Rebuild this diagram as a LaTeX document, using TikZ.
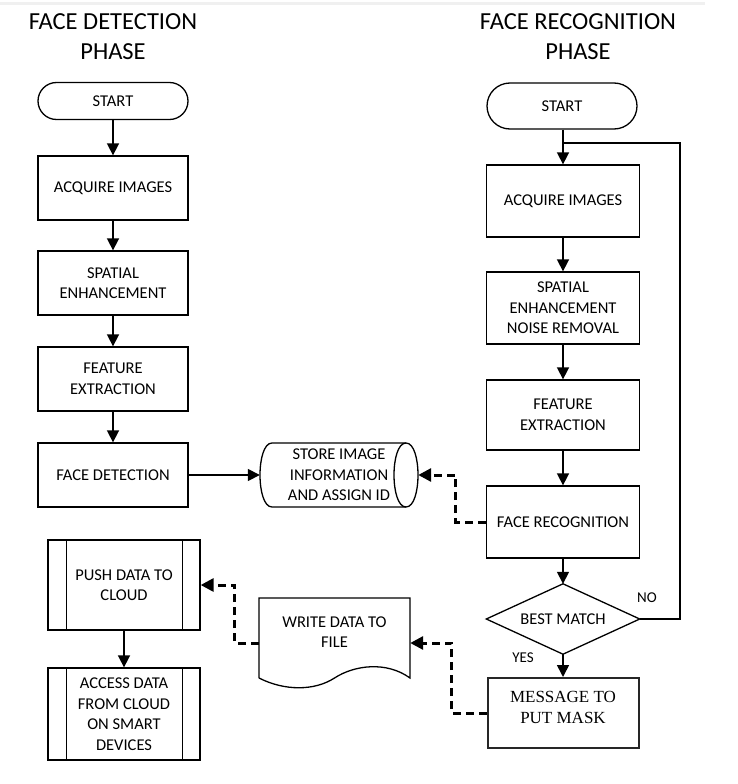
\documentclass[tikz,border=0pt]{standalone}
\usepackage{fontspec}
\setmainfont{Carlito}
\newfontfamily\timesfont{Liberation Serif}
\usetikzlibrary{arrows.meta,calc,shapes.misc}
\begin{document}
\begin{tikzpicture}[x=1pt,y=-1pt,
  txt/.style={font=\fontsize{16.5}{20.5}\selectfont, align=center},
  lbox/.style={txt, draw, line width=1.3pt, minimum width=150pt, minimum height=64pt, inner sep=0pt},
  rbox/.style={txt, draw, line width=1.3pt, minimum width=153pt, minimum height=72pt, inner sep=0pt},
  pbox/.style={txt, draw, line width=1.3pt, minimum width=152pt, minimum height=90pt, inner sep=0pt},
  term/.style={txt, draw, line width=1.3pt, rounded rectangle, minimum width=150pt, inner sep=0pt},
  ghost/.style={txt, inner sep=0pt},
  outline/.style={line width=1.3pt},
  title/.style={font=\fontsize{24.5}{30}\selectfont, align=center},
  lbl/.style={font=\fontsize{15}{18}\selectfont},
  flow/.style={line width=1.6pt, -{Triangle[length=12pt,width=12pt]}},
  plain/.style={line width=1.6pt},
  dflow/.style={line width=3pt, dash pattern=on 8pt off 5pt, -{Triangle[length=13pt,width=13pt]}}
]
\useasboundingbox (0,0) rectangle (738,784);
\fill[gray!12] (0,2) rectangle (705,5);

% titles
\node[title] (t1) at (113,37) {FACE DETECTION\\PHASE};
\node[title] (t2) at (578,37) {FACE RECOGNITION\\PHASE};

% left column
\node[term, minimum height=37pt] (s1) at (113,101) {START};
\node[lbox] (a1) at (113,188) {ACQUIRE IMAGES};
\node[lbox] (e1) at (113,283) {SPATIAL\\ENHANCEMENT};
\node[lbox] (f1) at (113,379) {FEATURE\\EXTRACTION};
\node[lbox] (d1) at (113,475) {FACE DETECTION};

% store (cylinder)
\node[ghost, minimum width=158pt, minimum height=64pt] (store) at (339,475) {STORE IMAGE\\INFORMATION\\AND ASSIGN ID};
\begin{scope}[shift={(store.center)}]
  \draw[outline] (-67,-32) -- (67,-32) .. controls (83,-32) and (83,32) .. (67,32) -- (-67,32)
     .. controls (-83,32) and (-83,-32) .. (-67,-32) -- cycle;
  \draw[outline] (67,-32) .. controls (51,-32) and (51,32) .. (67,32);
\end{scope}

% push / access (predefined process)
\node[pbox] (push) at (124,585) {PUSH DATA TO\\CLOUD};
\node[pbox, minimum height=92pt] (acc) at (124,714) {ACCESS DATA\\FROM CLOUD\\ON SMART\\DEVICES};
\foreach \n in {push,acc}{
  \draw[outline] ($(\n.north west)+(19,0)$) -- ($(\n.south west)+(19,0)$);
  \draw[outline] ($(\n.north east)+(-18,0)$) -- ($(\n.south east)+(-18,0)$);
}

% document
\node[minimum width=151pt, minimum height=90pt, inner sep=0pt] (doc) at (334.5,643) {};
\node[ghost, yshift=11pt] (doctext) at (doc.center) {WRITE DATA TO\\FILE};
\begin{scope}[shift={(doc.center)}]
  \draw[outline] (-75.5,35) -- (-75.5,-45) -- (75.5,-45) -- (75.5,35)
    .. controls (52,18) and (20,22) .. (0,35)
    .. controls (-20,48) and (-50,48) .. (-75.5,35);
\end{scope}

% right column
\node[term, minimum height=46pt] (s2) at (562,106) {START};
\node[rbox] (a2) at (563,201) {ACQUIRE IMAGES};
\node[rbox] (e2) at (563,308) {SPATIAL\\ENHANCEMENT\\NOISE REMOVAL};
\node[rbox, minimum height=70pt] (f2) at (563,415) {FEATURE\\EXTRACTION};
\node[rbox] (r2) at (563,522) {FACE RECOGNITION};
\node[ghost, minimum width=153pt, minimum height=70pt] (match) at (563,619) {BEST MATCH};
\draw[outline] (match.north) -- (match.east) -- (match.south) -- (match.west) -- cycle;
\node[draw=black!85, line width=2pt, minimum width=151pt, minimum height=70pt, inner sep=0pt] (msg) at (563,713) {};
\node[font=\timesfont\fontsize{17}{21}\selectfont, align=center, inner sep=0pt, yshift=6pt] (msgtext) at (msg.center) {MESSAGE TO\\PUT MASK};

\node[lbl] (no) at (647,598) {NO};
\node[lbl] (yes) at (523,658) {YES};

\coordinate (loopR) at (680,143);
\coordinate (join) at (563,143);

% left connectors
\draw[flow] (s1) -- (a1);
\draw[flow] (a1) -- (e1);
\draw[flow] (e1) -- (f1);
\draw[flow] (f1) -- (d1);
\draw[flow] (d1) -- (store);
\draw[flow] (push) -- (acc);

% right connectors
\draw[flow] (s2.south -| a2.north) -- (a2.north);
\draw[flow] (a2) -- (e2);
\draw[flow] (e2) -- (f2);
\draw[flow] (f2) -- (r2);
\draw[flow] (r2) -- (match.north);
\draw[flow] (match.south) -- (msg.north);
\draw[plain] (match.east) -| (loopR) -- (join);

% dashed connectors
\draw[dflow] (r2.west) -- ++(-30,0) |- (store.east);
\draw[dflow] (msg.west) -- ++(-35,0) |- (doc.east);
\draw[dflow] (doc.west) -- ++(-24,0) |- (push.east);
\end{tikzpicture}
\end{document}
